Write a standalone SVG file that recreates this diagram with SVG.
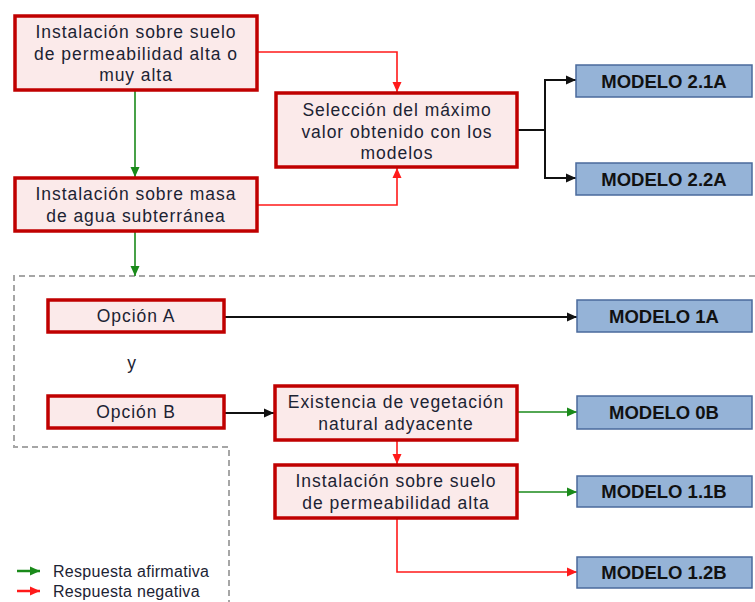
<svg xmlns="http://www.w3.org/2000/svg" width="755" height="602" viewBox="0 0 755 602">
<defs>
<style>
.box{fill:#fbeaea;stroke:#c00000;stroke-width:3.5}
.mod{fill:#95b3d7;stroke:#4a6a9c;stroke-width:1.5}
.t{font-family:"Liberation Sans",Arial,sans-serif;font-size:17.5px;fill:#1c2333;text-anchor:middle;letter-spacing:0.95px}
.m{font-family:"Liberation Sans",Arial,sans-serif;font-size:18.5px;font-weight:bold;fill:#111;text-anchor:middle}
.lg{font-family:"Liberation Sans",Arial,sans-serif;font-size:16px;fill:#1c2333;letter-spacing:0.3px}
.r{fill:none;stroke:#ff1a1a;stroke-width:1.6}
.g{fill:none;stroke:#1a8a1a;stroke-width:1.6}
.k{fill:none;stroke:#111;stroke-width:2}
.d{fill:none;stroke:#a6a6a6;stroke-width:2;stroke-dasharray:6,4}
</style>
<marker id="ar" markerUnits="userSpaceOnUse" markerWidth="12" markerHeight="10" refX="10" refY="5" orient="auto"><path d="M0,0.5 L10,5 L0,9.5 Z" fill="#ff1a1a"/></marker>
<marker id="ag" markerUnits="userSpaceOnUse" markerWidth="12" markerHeight="10" refX="10" refY="5" orient="auto"><path d="M0,0.5 L10,5 L0,9.5 Z" fill="#1a8a1a"/></marker>
<marker id="ak" markerUnits="userSpaceOnUse" markerWidth="12" markerHeight="10" refX="10" refY="5" orient="auto"><path d="M0,0.5 L10,5 L0,9.5 Z" fill="#111"/></marker>
</defs>
<rect width="755" height="602" fill="#fff"/>

<g id="connectors">
<path class="d" d="M755,276 H14 V447 H229 V602"/>
<path class="g" d="M135,91 V177" marker-end="url(#ag)"/>
<path class="r" d="M258,52 H397 V92" marker-end="url(#ar)"/>
<path class="r" d="M258,205 H397 V168" marker-end="url(#ar)"/>
<path class="k" d="M518,130 H545"/>
<path class="k" d="M545,80 V178"/>
<path class="k" d="M544,80 H576" marker-end="url(#ak)"/>
<path class="k" d="M544,178 H576" marker-end="url(#ak)"/>
<path class="g" d="M135,232 V276" marker-end="url(#ag)"/>
<path class="k" d="M225,317 H577" marker-end="url(#ak)"/>
<path class="k" d="M225,413 H274" marker-end="url(#ak)"/>
<path class="g" d="M518,412 H577" marker-end="url(#ag)"/>
<path class="r" d="M397,441 V464" marker-end="url(#ar)"/>
<path class="g" d="M518,492 H577" marker-end="url(#ag)"/>
<path class="r" d="M397,519 V572 H577" marker-end="url(#ar)"/>
</g>

<g id="n1"><rect class="box" x="15" y="16" width="242" height="74"/>
<text class="t" x="136" y="38">Instalación sobre suelo</text>
<text class="t" x="136" y="59.5">de permeabilidad alta o</text>
<text class="t" x="136" y="81">muy alta</text></g>

<g id="n2"><rect class="box" x="15" y="178" width="242" height="53"/>
<text class="t" x="136" y="200">Instalación sobre masa</text>
<text class="t" x="136" y="222">de agua subterránea</text></g>

<g id="n3"><rect class="box" x="276" y="93" width="241" height="74"/>
<text class="t" x="397" y="116">Selección del máximo</text>
<text class="t" x="397" y="137.5">valor obtenido con los</text>
<text class="t" x="397" y="159">modelos</text></g>

<g id="m21"><rect class="mod" x="576" y="65" width="176" height="32"/><text class="m" x="664" y="87.5">MODELO 2.1A</text></g>
<g id="m22"><rect class="mod" x="576" y="163" width="176" height="32"/><text class="m" x="664" y="185.5">MODELO 2.2A</text></g>

<g id="optA"><rect class="box" x="48" y="300" width="176" height="32"/><text class="t" x="136" y="322">Opción A</text></g>
<g id="m1a"><rect class="mod" x="577" y="300" width="175" height="32"/><text class="m" x="664" y="322.5">MODELO 1A</text></g>

<text class="t" x="132" y="369">y</text>

<g id="optB"><rect class="box" x="48" y="396" width="176" height="32"/><text class="t" x="136" y="418">Opción B</text></g>

<g id="n4"><rect class="box" x="275" y="386" width="242" height="54"/>
<text class="t" x="396" y="408">Existencia de vegetación</text>
<text class="t" x="396" y="429.5">natural adyacente</text></g>
<g id="m0b"><rect class="mod" x="577" y="396" width="175" height="33"/><text class="m" x="664" y="419">MODELO 0B</text></g>

<g id="n5"><rect class="box" x="275" y="465" width="242" height="53"/>
<text class="t" x="396" y="487">Instalación sobre suelo</text>
<text class="t" x="396" y="509">de permeabilidad alta</text></g>
<g id="m11b"><rect class="mod" x="577" y="476" width="175" height="31"/><text class="m" x="664" y="498">MODELO 1.1B</text></g>
<g id="m12b"><rect class="mod" x="577" y="557" width="175" height="31"/><text class="m" x="664" y="579">MODELO 1.2B</text></g>

<g id="legend">
<path class="g" d="M17,571 H40" marker-end="url(#ag)" style="stroke-width:2.5"/>
<path class="r" d="M17,591 H40" marker-end="url(#ar)" style="stroke-width:2.5"/>
<text class="lg" x="53" y="577">Respuesta afirmativa</text>
<text class="lg" x="53" y="597">Respuesta negativa</text>
</g>
</svg>
